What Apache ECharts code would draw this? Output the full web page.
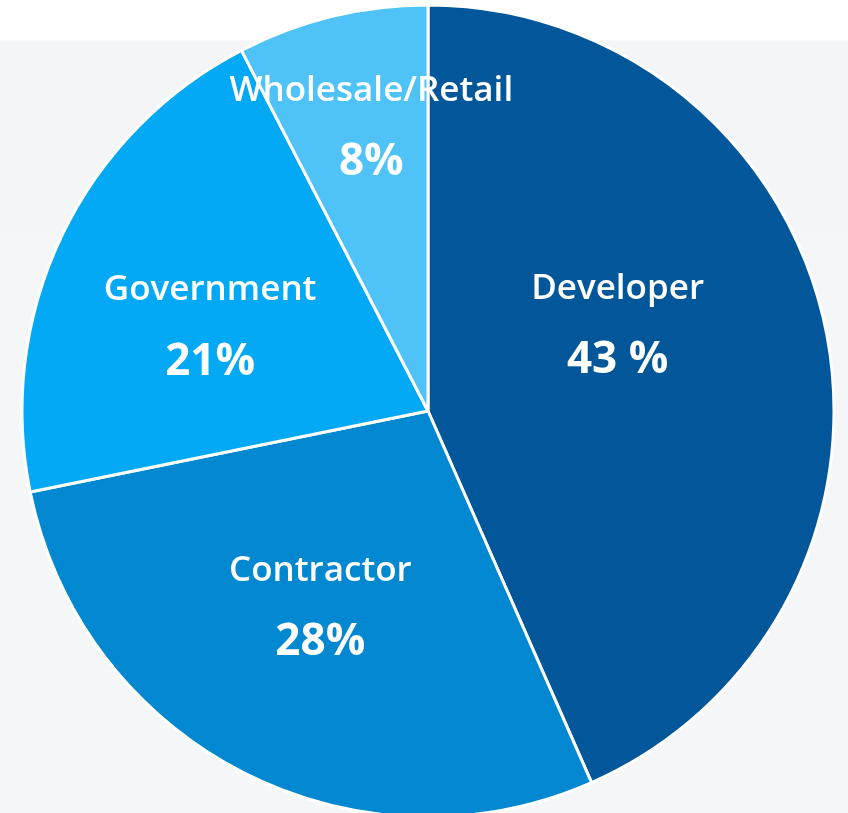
<!DOCTYPE html>
<html>
<head>
<meta charset="utf-8">
<script src="https://cdn.jsdelivr.net/npm/echarts@6/dist/echarts.min.js"></script>
<style>
* { margin: 0; padding: 0; }
#chart-container { width: 848px; height: 813px; }
</style>
</head>
<body>
<div id="chart-container"></div>
<script>
const categories = ['Developer', 'Contractor', 'Government', 'Wholesale/Retail']
// slice sizes as drawn (read from the slice edges)
const values = [43.4, 28.4, 20.6, 7.6]
const percentLabels = ['43 %', '28%', '21%', '8%']
const sliceColors = ['#02579b', '#0288d1', '#03a9f4', '#4fc3f7']
// nudge labels away from the default inside spot
const labelShift = [[-12, -44], [-13, 13], [-32, 4], [-8, -84]]

const chart = echarts.init(document.getElementById('chart-container'))

const option = {
  animation: false,
  backgroundColor: {
    type: 'linear', x: 0, y: 0, x2: 0, y2: 1,
    colorStops: [
      { offset: 0, color: '#ffffff' },
      { offset: 0.048, color: '#ffffff' },
      { offset: 0.052, color: '#f4f5f7' },
      { offset: 1, color: '#f6f7f8' }
    ]
  },
  series: [
    {
      type: 'pie',
      center: [428, 411],
      radius: 406,
      startAngle: 90,
      clockwise: true,
      data: categories.map((name, i) => ({
        name: name,
        value: values[i],
        itemStyle: { color: sliceColors[i] }
      })),
      itemStyle: { borderColor: '#ffffff', borderWidth: 3 },
      label: {
        show: true,
        position: 'inside',
        formatter: (p) => '{n|' + p.name + '}\n{p|' + percentLabels[p.dataIndex] + '}',
        rich: {
          n: { color: '#fff', fontFamily: 'Open Sans', fontWeight: 600, fontSize: 35, lineHeight: 72 },
          p: { color: '#fff', fontFamily: 'Open Sans', fontWeight: 700, fontSize: 44, lineHeight: 72 }
        }
      },
      labelLine: { show: false },
      labelLayout: (params) => ({
        dx: labelShift[params.dataIndex][0],
        dy: labelShift[params.dataIndex][1]
      })
    }
  ]
}

chart.setOption(option)
</script>
</body>
</html>
